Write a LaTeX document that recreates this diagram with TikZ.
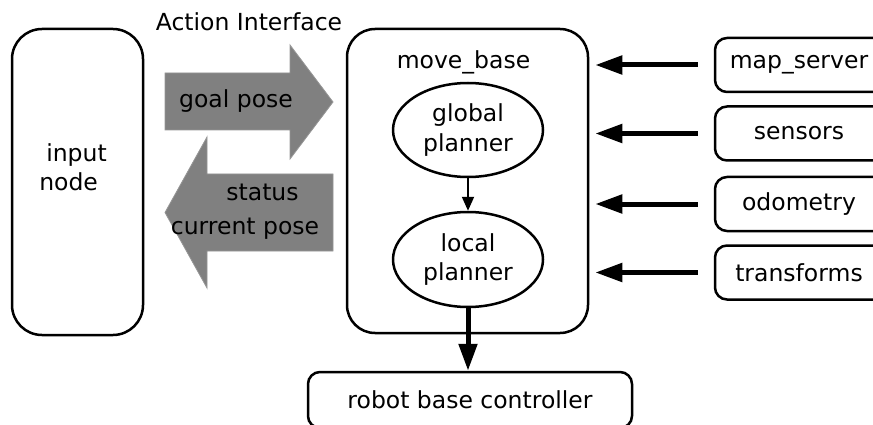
\documentclass[tikz,border=0pt]{standalone}
\usepackage{fontspec}
\setmainfont{DejaVu Sans}
\usetikzlibrary{arrows.meta,shapes.geometric}
\begin{document}
\begin{tikzpicture}[x=1pt,y=-1pt,
  every node/.style={font=\fontsize{23.5}{29.5}\selectfont, inner sep=0pt},
  rbox/.style={draw, line width=2.5pt, rounded corners=#1},
  ell/.style={draw, ellipse, line width=2.5pt, minimum width=150pt, minimum height=94pt, align=center},
  src/.style={rbox=12pt, minimum width=184pt, minimum height=54pt},
  bigarrow/.style={line width=5pt, -{Triangle[length=27pt,width=18pt]}},
  smallarrow/.style={line width=2pt, -{Triangle[length=14pt,width=12pt]}},
  fatarrow/.style={fill={rgb,255:red,128;green,128;blue,128}, draw={rgb,255:red,150;green,150;blue,150}, line width=0.8pt}
]
\useasboundingbox (0,0) rectangle (873,425);

% input node
\node[rbox=30pt, minimum width=131pt, minimum height=306pt] (in) at (77.5,182) {};
\node[align=left] (intxt) at (73,167) {\hspace*{7pt}input\\node};

% action interface
\node (ai) at (249,22) {Action Interface};
\fill[fatarrow] (165,73) -- (290,73) -- (290,45) -- (333,102) -- (290,159) -- (290,130) -- (165,130) -- cycle;
\node (goal) at (236,101) {goal pose};
\fill[fatarrow] (165,212.5) -- (207,137) -- (207,174) -- (333,174) -- (333,251) -- (207,251) -- (207,288) -- cycle;
\node (status) at (262.5,192) {status};
\node (cur) at (245,229) {current pose};

% move_base
\node[rbox=28pt, minimum width=241pt, minimum height=304pt] (mb) at (467.5,181) {};
\node (mbt) at (463.5,62) {move\_base};
\node[ell] (gp) at (468,130) {global\\planner};
\node[ell, minimum height=95pt] (lp) at (468,259.5) {local\\planner};
\draw[smallarrow] (gp.south) -- (lp.north);

% robot base controller
\node[src, minimum width=324pt, minimum height=56pt] (rbc) at (470,400) {robot base controller};
\draw[bigarrow] (lp.south) -- (lp.south |- rbc.north);

% sources
\node[src] (map) at (807,65) {map\_server\hspace*{16pt}};
\node[src] (sen) at (807,133.5) {sensors\hspace*{16pt}};
\node[src] (odo) at (807,204) {odometry\hspace*{16pt}};
\node[src] (tf) at (807,272.5) {transforms\hspace*{16pt}};
\foreach \s in {map,sen,odo,tf}{
  \draw[bigarrow, shorten <=16pt, shorten >=6pt] (\s.west) -- (\s.west -| mb.east);
}
\end{tikzpicture}
\end{document}
